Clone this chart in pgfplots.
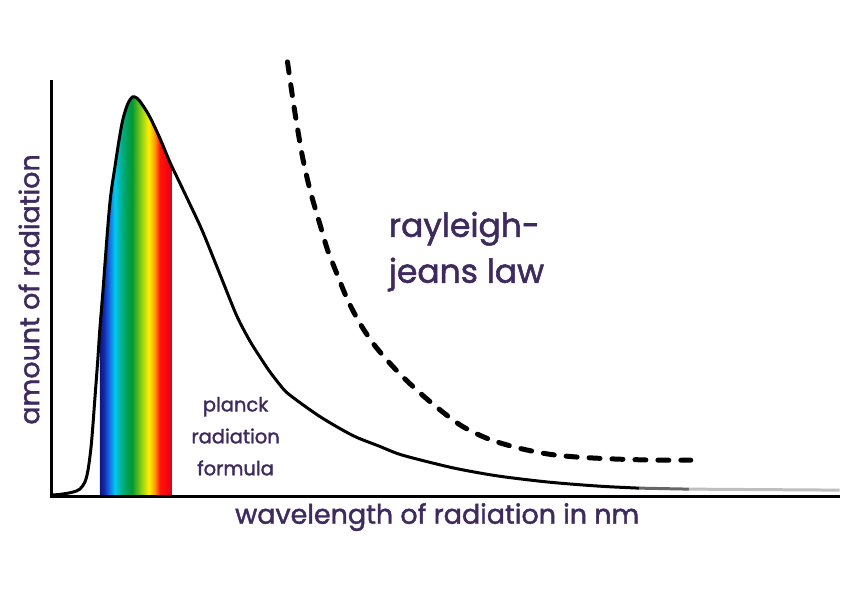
\documentclass[border=0pt]{standalone}
\usepackage{pgfplots}
\pgfplotsset{compat=1.18}
\usepackage{fontspec}
\setmainfont{Poppins}
\newfontfamily\pfont{Poppins}[FakeBold=1.6]
\definecolor{txt}{HTML}{3F2A5E}
\definecolor{edge}{HTML}{6E2878}
\definecolor{rA}{RGB}{20,20,120}
\definecolor{rA2}{RGB}{20,40,170}
\definecolor{rB}{RGB}{20,90,220}
\definecolor{rC}{RGB}{0,200,240}
\definecolor{rD}{RGB}{0,170,120}
\definecolor{rE}{RGB}{0,150,50}
\definecolor{rF}{RGB}{150,210,20}
\definecolor{rH}{RGB}{255,240,0}
\definecolor{rI}{RGB}{255,150,0}
\definecolor{rJ}{RGB}{255,20,10}
\definecolor{rK}{RGB}{240,0,20}
\definecolor{rL}{RGB}{120,40,120}
\pgfdeclarehorizontalshading{rainbow}{100bp}{%
color(0bp)=(rA); color(25bp)=(rA); color(27.8bp)=(rA2); color(30.6bp)=(rB);
color(35.4bp)=(rC); color(41bp)=(rD); color(47.2bp)=(rE); color(54.2bp)=(rF);
color(59bp)=(rH); color(63.2bp)=(rI); color(66.7bp)=(rJ); color(73.6bp)=(rK);
color(75bp)=(rL); color(100bp)=(rL)}
\begin{document}
\begin{tikzpicture}
\begin{axis}[
  width=841bp, height=594bp, scale only axis,
  xmin=0, xmax=841, ymin=0, ymax=594,
  axis lines=none, clip=false]
\path (rel axis cs:0,0) rectangle (rel axis cs:1,1);
% rainbow (visible spectrum)
\addplot[draw=none, shade, shading=rainbow] coordinates {
(100,97) (100,264) (103,301) (108,367) (111,399) (115,426) (119,452)
(123,474) (128,490) (133,497) (138,495) (144,487) (150,477) (160,456)
(170,432) (172,428) (172,97)} -- cycle;
\addplot[edge, line width=1.5bp] coordinates {(172,97) (172,428)};
% axes
\addplot[black, line width=3bp, line join=miter] coordinates {(52,514) (52,97) (841,97)};
% planck curve
\addplot[black, line width=3bp, smooth, tension=0.5, line cap=round] coordinates {
(52,98) (62,99) (73,101) (80,104) (85,111) (88,122) (91,144) (93,167)
(95,194) (98,234) (100,264) (103,301) (108,367) (111,399) (115,426)
(119,452) (123,474) (128,490) (133,497) (138,495) (144,487) (150,477)
(160,456) (170,432) (180,411) (190,390) (203,362) (220,320) (237,278)
(250,253) (260,237) (270,222) (280,209) (287,201) (300,191) (320,177)
(340,165) (357,156) (380,147) (400,139) (430,131) (460,124) (500,117)
(550,111) (600,107) (640,105)};
\addplot[black!60, line width=3bp] coordinates {(640,105) (690,104)};
\addplot[black!25, line width=3bp] coordinates {(690,104) (841,103)};
% rayleigh-jeans
\addplot[black, line width=5bp, smooth, tension=0.5, line cap=round,
  dash pattern=on 11bp off 12bp] coordinates {
(288,532) (295,484) (303,437) (311,402) (320,371) (328,344) (337,321)
(348,294) (360,271) (373,251) (387,234) (403,217) (420,201) (440,184)
(463,167) (490,154) (520,145) (550,139) (580,136) (620,134) (660,133)
(692,133)};
% labels
\node[txt, anchor=west, align=left, font=\pfont\fontsize{33bp}{46bp}\selectfont]
  at (axis cs:386,342) {rayleigh-\\jeans law};
\node[txt, align=center, font=\pfont\fontsize{19.5bp}{32bp}\selectfont]
  at (axis cs:236,157) {planck\\radiation\\formula};
\node[txt, rotate=90, font=\pfont\fontsize{27bp}{30bp}\selectfont]
  at (axis cs:29,304) {amount of radiation};
\node[txt, font=\pfont\fontsize{27bp}{30bp}\selectfont]
  at (axis cs:438,76) {wavelength of radiation in nm};
\end{axis}
\end{tikzpicture}
\end{document}
